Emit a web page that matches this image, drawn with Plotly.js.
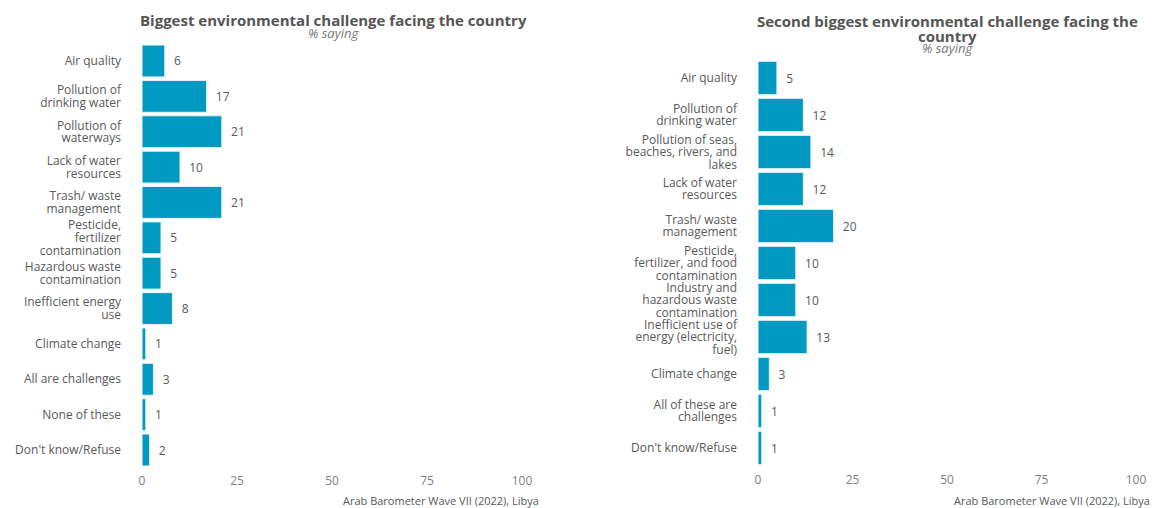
<!DOCTYPE html>
<html>
<head>
<meta charset="utf-8">
<script src="https://cdn.plot.ly/plotly-3.0.1.min.js"></script>
<style>html,body{margin:0;padding:0;background:#fff;}#chart{width:1153px;height:508px;}</style>
</head>
<body>
<div id="chart"></div>
<script>
const categoriesLeft = [
  "Air quality",
  "Pollution of<br>drinking water",
  "Pollution of<br>waterways",
  "Lack of water<br>resources",
  "Trash/ waste<br>management",
  "Pesticide,<br>fertilizer<br>contamination",
  "Hazardous waste<br>contamination",
  "Inefficient energy<br>use",
  "Climate change",
  "All are challenges",
  "None of these",
  "Don't know/Refuse"
];
const valuesLeft = [6, 17, 21, 10, 21, 5, 5, 8, 1, 3, 1, 2];

const categoriesRight = [
  "Air quality",
  "Pollution of<br>drinking water",
  "Pollution of seas,<br>beaches, rivers, and<br>lakes",
  "Lack of water<br>resources",
  "Trash/ waste<br>management",
  "Pesticide,<br>fertilizer, and food<br>contamination",
  "Industry and<br>hazardous waste<br>contamination",
  "Inefficient use of<br>energy (electricity,<br>fuel)",
  "Climate change",
  "All of these are<br>challenges",
  "Don't know/Refuse"
];
const valuesRight = [5, 12, 14, 12, 20, 10, 10, 13, 3, 1, 1];

const xTicks = [0, 25, 50, 75, 100];
const titleLeft = "Biggest environmental challenge facing the country";
const titleRightLine1 = "Second biggest environmental challenge facing the";
const titleRightLine2 = "country";
const subtitle = "% saying";
const source = "Arab Barometer Wave VII (2022), Libya";

const FONT = "Open Sans, Lato, sans-serif";
const BAR = "#0099c2";
const GREY = "#595959";

function barTrace(cats, vals, xa, ya) {
  return {
    type: "bar", orientation: "h",
    y: cats, x: vals, xaxis: xa, yaxis: ya,
    width: 0.9,
    marker: {color: BAR, line: {color: "#e6f4f8", width: 1}},
    text: vals.map(v => "\u00a0\u00a0" + v),
    textposition: "outside",
    cliponaxis: false,
    textfont: {family: FONT, size: 12, color: GREY},
    hoverinfo: "x+y", showlegend: false
  };
}

const xaxisBase = {
  range: [0, 100], tickvals: xTicks, ticktext: xTicks.map(String),
  showgrid: false, zeroline: false, showline: false, ticks: "",
  ticklabelstandoff: 4,
  tickfont: {family: FONT, size: 12, color: "#808080"}, fixedrange: true
};
const yaxisBase = {
  showgrid: false, zeroline: false, showline: false, ticks: "",
  tickfont: {family: FONT, size: 12, color: GREY}, ticklabelstandoff: 20, fixedrange: true
};

function ann(text, x, y, size, color, xanchor) {
  return {text: text, xref: "paper", yref: "paper", x: x / 1153, y: 1 - y / 508,
    xanchor: xanchor || "center", yanchor: "middle", showarrow: false,
    font: {family: FONT, size: size, color: color}};
}

const layout = {
  width: 1153, height: 508,
  margin: {l: 0, r: 0, t: 0, b: 0},
  paper_bgcolor: "#fff", plot_bgcolor: "#fff",
  xaxis: Object.assign({}, xaxisBase, {domain: [142/1153, 522/1153], anchor: "y"}),
  yaxis: Object.assign({}, yaxisBase, {domain: [1-467.7/508, 1-43.3/508], anchor: "x",
    categoryorder: "array", categoryarray: categoriesLeft, range: [11.5, -0.5], autorange: false}),
  xaxis2: Object.assign({}, xaxisBase, {domain: [758/1153, 1136/1153], anchor: "y2"}),
  yaxis2: Object.assign({}, yaxisBase, {domain: [1-466.5/508, 1-59.5/508], anchor: "x2",
    categoryorder: "array", categoryarray: categoriesRight, range: [10.5, -0.5], autorange: false}),
  annotations: [
    ann("<b>" + titleLeft + "</b>", 333, 20, 15, "#555"),
    ann("<i>" + subtitle + "</i>", 333, 33, 13, "#777"),
    ann("<b>" + titleRightLine1 + "</b>", 947, 21, 15, "#555"),
    ann("<b>" + titleRightLine2 + "</b>", 947, 36, 15, "#555"),
    ann("<i>" + subtitle + "</i>", 947, 48, 13, "#777"),
    ann(source, 541, 500, 11, GREY, "right"),
    ann(source, 1152, 500, 11, GREY, "right")
  ]
};

function tightenLines(root, selector, factor) {
  root.querySelectorAll(selector).forEach(t => {
    const lines = t.querySelectorAll("tspan.line");
    if (lines.length < 2) return;
    const b0 = t.getBBox();
    const c0 = b0.y + b0.height / 2;
    lines.forEach((ln, i) => ln.setAttribute("dy", (i * factor) + "em"));
    const b1 = t.getBBox();
    const delta = (b1.y + b1.height / 2) - c0;
    lines.forEach(ln => {
      const y = parseFloat(ln.getAttribute("y"));
      if (!isNaN(y)) ln.setAttribute("y", y - delta);
    });
    if (isNaN(parseFloat(lines[0].getAttribute("y")))) {
      const ty = parseFloat(t.getAttribute("y")) || 0;
      t.setAttribute("y", ty - delta);
    }
  });
}

const gd = document.getElementById("chart");
Plotly.newPlot(gd, [
  barTrace(categoriesLeft, valuesLeft, "x", "y"),
  barTrace(categoriesRight, valuesRight, "x2", "y2")
], layout, {displayModeBar: false, staticPlot: true}).then(() => {
  tightenLines(gd, ".ytick text, .y2tick text", 1.05);
});
</script>
</body>
</html>
